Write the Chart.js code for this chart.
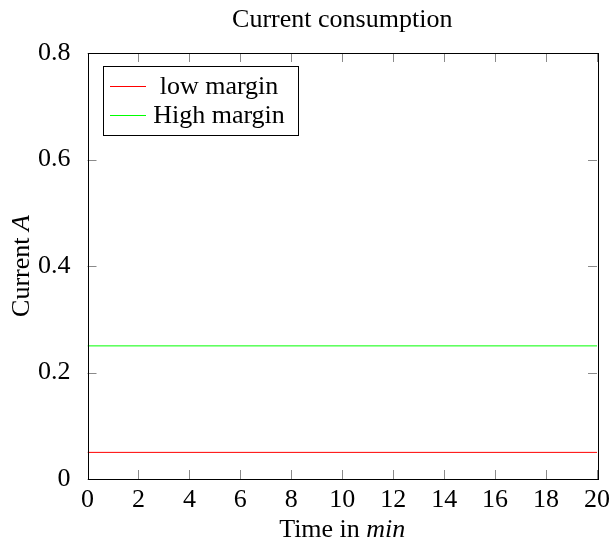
<!DOCTYPE html>
<html>
<head>
<meta charset="utf-8">
<title>Current consumption</title>
<script src="https://cdn.jsdelivr.net/npm/chart.js@4.4.0/dist/chart.umd.min.js"></script>
<style>
  html, body { margin: 0; padding: 0; background: #fff; }
  #wrap { width: 609px; height: 548px; }
</style>
</head>
<body>
<div id="wrap"><canvas id="chart"></canvas></div>
<script>
// Data
const timeMin = [0, 20];
const lowMargin = [0.05, 0.05];
const highMargin = [0.25, 0.25];
const xTicks = [0, 2, 4, 6, 8, 10, 12, 14, 16, 18, 20];
const yTicks = [0, 0.2, 0.4, 0.6, 0.8];

const FONT = '"Liberation Serif", "DejaVu Serif", serif';
const SIZE = 26;

function toPoints(xs, ys) {
    return xs.map((x, i) => ({ x: x, y: ys[i] }));
}

// Frame with inward ticks on all four sides, like pgfplots
const framePlugin = {
    id: 'frame',
    afterDraw(chart) {
        const ctx = chart.ctx;
        const a = chart.chartArea;
        const xs = chart.scales.x;
        const ys = chart.scales.y;
        const len = 9;
        ctx.save();
        ctx.strokeStyle = '#8a8a8a';
        ctx.lineWidth = 1;
        ctx.beginPath();
        xTicks.forEach(v => {
            const px = Math.round(xs.getPixelForValue(v)) + 0.5;
            ctx.moveTo(px, a.bottom);
            ctx.lineTo(px, a.bottom - len);
            ctx.moveTo(px, a.top);
            ctx.lineTo(px, a.top + len);
        });
        yTicks.forEach(v => {
            const py = Math.round(ys.getPixelForValue(v)) + 0.5;
            ctx.moveTo(a.left, py);
            ctx.lineTo(a.left + len, py);
            ctx.moveTo(a.right, py);
            ctx.lineTo(a.right - len, py);
        });
        ctx.stroke();
        ctx.strokeStyle = '#000';
        ctx.strokeRect(Math.round(a.left) + 0.5, Math.round(a.top) + 0.5,
            Math.round(a.right - a.left), Math.round(a.bottom - a.top));
        ctx.restore();
    }
};

// Title and axis labels (with italic units)
function drawMixed(ctx, parts, cx, cy) {
    let total = 0;
    parts.forEach(p => {
        ctx.font = (p.italic ? 'italic ' : '') + SIZE + 'px ' + FONT;
        p.w = ctx.measureText(p.text).width;
        total += p.w;
    });
    let x = cx - total / 2;
    parts.forEach(p => {
        ctx.font = (p.italic ? 'italic ' : '') + SIZE + 'px ' + FONT;
        ctx.fillText(p.text, x, cy);
        x += p.w;
    });
}

const labelPlugin = {
    id: 'labels',
    afterDraw(chart) {
        const ctx = chart.ctx;
        const a = chart.chartArea;
        const cx = (a.left + a.right) / 2;
        ctx.save();
        ctx.fillStyle = '#000';
        ctx.textAlign = 'left';
        ctx.textBaseline = 'middle';
        drawMixed(ctx, [{ text: 'Current consumption' }], cx, 20);
        drawMixed(ctx, [{ text: 'Time in ' }, { text: 'min', italic: true }], cx, 530);
        ctx.translate(22, (a.top + a.bottom) / 2);
        ctx.rotate(-Math.PI / 2);
        drawMixed(ctx, [{ text: 'Current ' }, { text: 'A', italic: true }], 0, 0);
        ctx.restore();
    }
};

// Boxed legend in the upper left of the plot
const legendPlugin = {
    id: 'boxLegend',
    afterDraw(chart) {
        const ctx = chart.ctx;
        const box = { x: 103.5, y: 66.5, w: 195, h: 69 };
        const rows = [86, 115];
        ctx.save();
        ctx.fillStyle = '#fff';
        ctx.fillRect(box.x, box.y, box.w, box.h);
        ctx.strokeStyle = '#000';
        ctx.lineWidth = 1;
        ctx.strokeRect(box.x, box.y, box.w, box.h);
        ctx.font = SIZE + 'px ' + FONT;
        ctx.textAlign = 'center';
        ctx.textBaseline = 'middle';
        chart.data.datasets.forEach((ds, i) => {
            const y = rows[i] + 0.5;
            ctx.strokeStyle = ds.borderColor;
            ctx.lineWidth = 1;
            ctx.beginPath();
            ctx.moveTo(110, y);
            ctx.lineTo(146, y);
            ctx.stroke();
            ctx.fillStyle = '#000';
            ctx.fillText(ds.label, 219, rows[i] + 1);
        });
        ctx.restore();
    }
};

new Chart(document.getElementById('chart'), {
    type: 'line',
    data: {
        datasets: [
            {
                label: 'low margin',
                data: toPoints(timeMin, lowMargin),
                borderColor: '#ff0000',
                borderWidth: 1,
                pointRadius: 0
            },
            {
                label: 'High margin',
                data: toPoints(timeMin, highMargin),
                borderColor: '#00ff00',
                borderWidth: 1,
                pointRadius: 0
            }
        ]
    },
    options: {
        responsive: true,
        maintainAspectRatio: false,
        animation: false,
        layout: { padding: { top: 53, right: 12, left: 0, bottom: 0 } },
        plugins: {
            legend: { display: false },
            title: { display: false },
            tooltip: { enabled: false }
        },
        scales: {
            x: {
                type: 'linear',
                min: 0,
                max: 20,
                afterBuildTicks(scale) {
                    scale.ticks = xTicks.map(v => ({ value: v }));
                },
                afterFit(scale) { scale.height = 69; },
                grid: { display: false },
                border: { display: false },
                ticks: {
                    color: '#000',
                    padding: -2,
                    maxRotation: 0,
                    autoSkip: false,
                    font: { family: FONT, size: SIZE }
                }
            },
            y: {
                type: 'linear',
                min: 0,
                max: 0.8,
                afterBuildTicks(scale) {
                    scale.ticks = yTicks.map(v => ({ value: v }));
                },
                afterFit(scale) { scale.width = 87.5; },
                grid: { display: false },
                border: { display: false },
                ticks: {
                    color: '#000',
                    padding: 9,
                    autoSkip: false,
                    font: { family: FONT, size: SIZE },
                    callback: v => String(v)
                }
            }
        }
    },
    plugins: [framePlugin, labelPlugin, legendPlugin]
});
</script>
</body>
</html>
